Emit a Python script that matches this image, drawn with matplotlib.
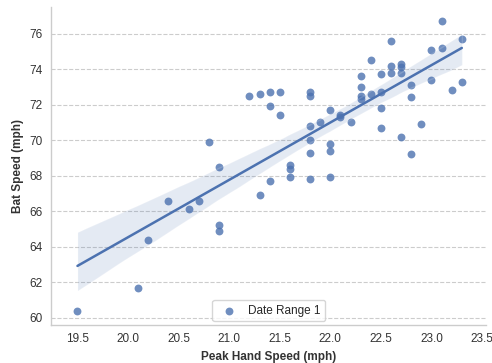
import numpy as np
import matplotlib
matplotlib.use("Agg")
import matplotlib.pyplot as plt
import seaborn as sns

# peak hand speed / bat speed readings (mph)
hand_speed = [19.5, 20.1, 20.2, 20.4, 20.6, 20.7, 20.8, 20.9, 20.9, 20.9,
              21.2, 21.3, 21.3, 21.4, 21.4, 21.4, 21.5, 21.5, 21.6, 21.6,
              21.6, 21.8, 21.8, 21.8, 21.8, 21.8, 21.8, 21.9, 22.0, 22.0,
              22.0, 22.0, 22.1, 22.1, 22.2, 22.3, 22.3, 22.3, 22.3, 22.4,
              22.4, 22.5, 22.5, 22.5, 22.5, 22.6, 22.6, 22.6, 22.7, 22.7,
              22.7, 22.7, 22.8, 22.8, 22.8, 22.9, 23.0, 23.0, 23.1, 23.1,
              23.2, 23.3, 23.3]
bat_speed = [60.4, 61.7, 64.4, 66.6, 66.1, 66.6, 69.9, 68.5, 65.2, 64.9,
             72.5, 72.6, 66.9, 72.7, 71.9, 67.7, 72.7, 71.4, 68.6, 68.4,
             67.9, 72.7, 72.5, 70.8, 70.0, 69.3, 67.8, 71.0, 71.7, 69.8,
             69.4, 67.9, 71.4, 71.3, 71.0, 73.6, 73.0, 72.5, 72.3, 74.5,
             72.6, 73.7, 72.7, 71.8, 70.7, 75.6, 74.2, 73.8, 74.3, 74.1,
             73.8, 70.2, 73.1, 72.4, 69.2, 70.9, 75.1, 73.4, 76.7, 75.2,
             72.8, 75.7, 73.3]
x_ticks = [19.5, 20.0, 20.5, 21.0, 21.5, 22.0, 22.5, 23.0, 23.5]
y_ticks = [60, 62, 64, 66, 68, 70, 72, 74, 76]

sns.set_style("white")
plt.rcParams['font.family'] = ['Liberation Sans', 'DejaVu Sans']

fig = plt.figure(figsize=(4.92, 3.63), dpi=100)
ax = fig.add_axes([0.104, 0.105, 0.884, 0.876])

sns.regplot(x=np.array(hand_speed), y=np.array(bat_speed), ax=ax, color="#4C72B0",
            seed=0, label="Date Range 1",
            scatter_kws={"s": 32, "alpha": 0.8, "linewidths": 0},
            line_kws={"linewidth": 1.8})

ax.set_xlim(19.24, 23.54)
ax.set_ylim(59.6, 77.5)
ax.set_xticks(x_ticks)
ax.set_yticks(y_ticks)
ax.tick_params(labelsize=8.5, length=0, pad=6, labelcolor="#333333")
ax.yaxis.grid(True, linestyle="--", color="#cccccc", linewidth=0.8)
ax.set_axisbelow(True)
for side in ["top", "right"]:
    ax.spines[side].set_visible(False)
for side in ["left", "bottom"]:
    ax.spines[side].set_color("#cccccc")
    ax.spines[side].set_linewidth(1.0)

ax.set_xlabel("Peak Hand Speed (mph)", fontsize=8.5, fontweight="bold", color="#333333")
ax.set_ylabel("Bat Speed (mph)", fontsize=8.5, fontweight="bold", color="#333333")
ax.legend(loc="lower center", fontsize=8.5, frameon=True, edgecolor="#cccccc",
          borderaxespad=0.3, handletextpad=0.6)

fig.savefig("out.png", dpi=100)
